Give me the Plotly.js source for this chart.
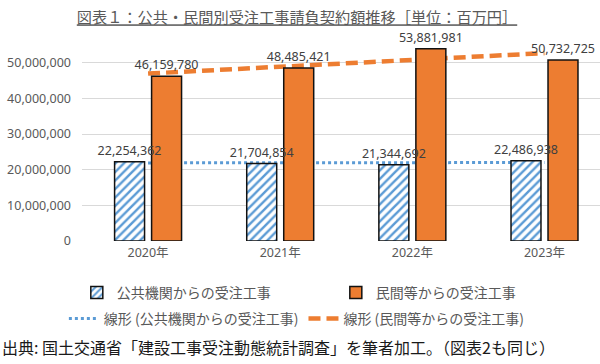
<!DOCTYPE html>
<html>
<head>
<meta charset="utf-8">
<script src="https://cdn.plot.ly/plotly-3.0.1.min.js"></script>
<style>html,body{margin:0;padding:0;overflow:hidden;background:#fff}#chart{width:600px;height:364px}</style>
</head>
<body>
<div id="chart"></div>
<script>
const years = ['2020年', '2021年', '2022年', '2023年'];
const publicOrders = [22254362, 21704854, 21344692, 22486938];
const privateOrders = [46159780, 48485421, 53881981, 50732725];
// linear trendline end points (first and last year), as drawn in the reference
const trendYears = ['2020年', '2023年'];
const publicTrend = [21897077, 21998346];
const privateTrend = [46947668, 52682286];
const yTicks = [0, 10000000, 20000000, 30000000, 40000000, 50000000];

const seriesNames = ['公共機関からの受注工事', '民間等からの受注工事'];
const trendNames = ['線形 (公共機関からの受注工事)', '線形 (民間等からの受注工事)'];
const titleText = '図表１：公共・民間別受注工事請負契約額推移［単位：百万円］';
const sourceText = '出典: 国土交通省「建設工事受注動態統計調査」を筆者加工。（図表2も同じ）';

const numFont = 'Noto Sans, Noto Sans CJK JP, sans-serif';
const jpFont = 'Noto Sans CJK JP, sans-serif';

const traces = [
  {
    type: 'bar', x: years, y: publicOrders, name: seriesNames[0], zorder: 2,
    marker: {
      color: '#ffffff',
      line: {color: '#111111', width: 1.5},
      pattern: {shape: '/', fgcolor: '#5b9bd5', bgcolor: '#ffffff', size: 6, solidity: 0.4}
    },
    texttemplate: '%{y:,}', textposition: 'outside', cliponaxis: false, constraintext: 'none',
    textfont: {family: numFont, size: 12.5, color: '#404040'}
  },
  {
    type: 'bar', x: years, y: privateOrders, name: seriesNames[1], zorder: 1,
    marker: {color: '#ed7d31', line: {color: '#111111', width: 1.5}},
    texttemplate: '%{y:,}', textposition: 'outside', cliponaxis: false, constraintext: 'none',
    textfont: {family: numFont, size: 12.5, color: '#404040'}
  },
  {
    type: 'scatter', mode: 'lines', x: trendYears, y: publicTrend,
    name: trendNames[0], legend: 'legend2', zorder: 0,
    line: {color: '#5b9bd5', width: 3, dash: 'dot'}, hoverinfo: 'skip'
  },
  {
    type: 'scatter', mode: 'lines', x: trendYears, y: privateTrend,
    name: trendNames[1], legend: 'legend2', zorder: 0,
    line: {color: '#ed7d31', width: 4.5, dash: '12px,6px'}, hoverinfo: 'skip'
  }
];

const layout = {
  width: 600, height: 364,
  margin: {l: 82, r: 0, t: 27, b: 123, autoexpand: false},
  paper_bgcolor: '#ffffff', plot_bgcolor: '#ffffff',
  font: {family: numFont, color: '#595959', size: 12.5},
  barmode: 'group', bargap: 0.44, bargroupgap: 0.19,
  title: {
    text: '<u>' + titleText + '</u>',
    font: {family: jpFont, size: 15.2, color: '#595959'},
    x: 0.495, xanchor: 'center', xref: 'container', y: 1 - 18 / 364, yanchor: 'middle', yref: 'container'
  },
  xaxis: {
    type: 'category', categoryorder: 'array', categoryarray: years,
    range: [-0.5, 3.42], fixedrange: true,
    showgrid: false, showline: true, linecolor: '#d9d9d9', linewidth: 1,
    ticks: '', tickfont: {family: numFont, size: 12.5, color: '#595959'}, automargin: false
  },
  yaxis: {
    range: [0, 60000000], tickvals: yTicks, tickformat: ',',
    showgrid: true, gridcolor: '#d9d9d9', gridwidth: 1, zeroline: false, showline: false,
    ticks: '', ticklabelstandoff: 10, tickfont: {family: numFont, size: 12.5, color: '#595959'},
    automargin: false
  },
  showlegend: true,
  legend: {
    orientation: 'h', x: -0.01, xanchor: 'left', y: -0.243, yanchor: 'middle',
    font: {family: jpFont, size: 14, color: '#595959'},
    entrywidth: 214, traceorder: 'normal', bgcolor: 'rgba(0,0,0,0)'
  },
  legend2: {
    orientation: 'h', x: -0.035, xanchor: 'left', y: -0.364, yanchor: 'middle',
    font: {family: jpFont, size: 14, color: '#595959'},
    traceorder: 'normal', bgcolor: 'rgba(0,0,0,0)'
  },
  annotations: [{
    text: sourceText, showarrow: false,
    xref: 'paper', yref: 'paper', x: -82 / 518, xanchor: 'left',
    y: -(347 - 241) / 214, yanchor: 'middle',
    font: {family: jpFont, size: 16, color: '#1a1a1a'}
  }]
};

Plotly.newPlot('chart', traces, layout, {displayModeBar: false, staticPlot: true});
</script>
</body>
</html>
